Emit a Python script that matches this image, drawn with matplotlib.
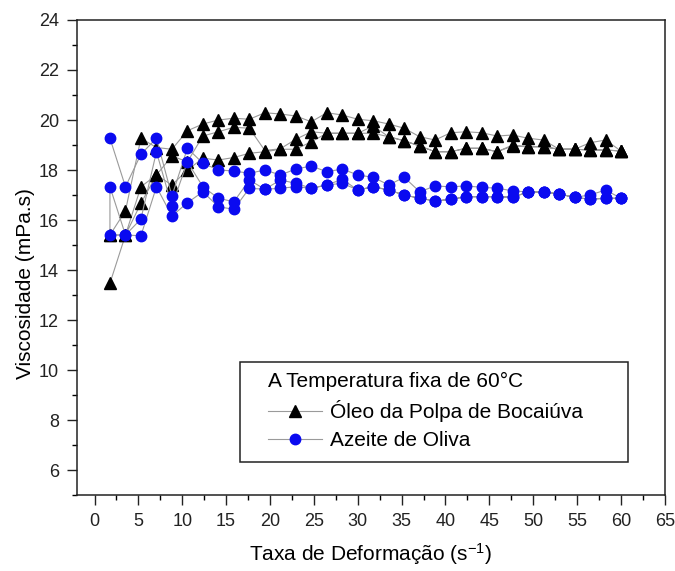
import matplotlib
matplotlib.use("Agg")
import matplotlib.pyplot as plt
from matplotlib.ticker import MultipleLocator
from matplotlib.patches import Rectangle
from matplotlib.lines import Line2D

plt.rcParams['font.family'] = ['Liberation Sans', 'DejaVu Sans']
plt.rcParams['mathtext.default'] = 'regular'

# shear rate (1/s), same for every sweep
taxa = [1.76, 3.53, 5.29, 7.06, 8.82, 10.59, 12.35, 14.12, 15.88, 17.65,
        19.41, 21.18, 22.94, 24.71, 26.47, 28.24, 30.00, 31.76, 33.53, 35.29,
        37.06, 38.82, 40.59, 42.35, 44.12, 45.88, 47.65, 49.41, 51.18, 52.94,
        54.71, 56.47, 58.24, 60.00]

# Oleo da Polpa de Bocaiuva - three sweeps (values listed by increasing shear rate)
oleo_s1 = [13.47, 15.40, 17.33, 17.80, 17.40, 18.00, 18.47, 18.40, 18.50, 18.67,
           18.73, 18.83, 18.83, 19.13, 19.47, 19.47, 19.47, 19.47, 19.33, 19.17,
           18.96, 18.73, 18.73, 18.87, 18.87, 18.73, 19.00, 18.93, 18.93, 18.83,
           18.83, 18.80, 18.80, 18.76]
oleo_s2 = [15.40, 16.37, 19.27, 18.90, 18.83, 19.57, 19.84, 20.00, 20.07, 20.03,
           20.29, 20.24, 20.16, 19.93, 20.29, 20.20, 20.03, 19.97, 19.84, 19.67,
           19.33, 19.20, 19.49, 19.53, 19.49, 19.36, 19.40, 19.27, 19.20, 18.83,
           18.83, 19.09, 19.20, 18.76]
oleo_s3 = [15.40, 15.40, 16.67, 17.80, 18.56, 18.33, 19.36, 19.53, 19.71, 19.67,
           18.78, 18.85, 19.23, 19.53, 19.47, 19.47, 19.47, 19.76, 19.33, 19.17,
           18.96, 18.73, 18.73, 18.87, 18.87, 18.73, 18.96, 18.93, 18.93, 18.83,
           18.83, 18.80, 18.80, 18.76]

# Azeite de Oliva - three sweeps
azeite_s1 = [19.27, 17.33, 18.63, 19.27, 16.96, 18.87, 18.27, 18.00, 17.96, 17.87,
             18.00, 17.80, 18.04, 18.16, 17.93, 18.04, 17.80, 17.71, 17.40, 17.71,
             17.13, 17.36, 17.33, 17.36, 17.31, 17.27, 17.17, 17.12, 17.12, 17.04,
             16.91, 17.00, 17.20, 16.87]
azeite_s2 = [17.33, 15.40, 16.04, 18.73, 16.56, 18.33, 17.33, 16.87, 16.73, 17.60,
             17.23, 17.60, 17.47, 17.27, 17.40, 17.63, 17.20, 17.33, 17.20, 17.00,
             16.87, 16.76, 16.83, 16.93, 16.93, 16.93, 16.91, 17.12, 17.12, 17.04,
             16.91, 16.83, 16.87, 16.87]
azeite_s3 = [15.40, 15.40, 15.37, 17.33, 16.16, 16.69, 17.13, 16.53, 16.43, 17.27,
             17.23, 17.27, 17.33, 17.27, 17.40, 17.47, 17.20, 17.33, 17.20, 17.00,
             16.87, 16.76, 16.83, 16.93, 16.93, 16.93, 16.91, 17.12, 17.12, 17.04,
             16.91, 16.83, 16.87, 16.87]


def sweep_path(s1, s2, s3):
    # up, down, up again
    xs = taxa + taxa[::-1] + taxa
    ys = s1 + s2[::-1] + s3
    return xs, ys


fig = plt.figure(figsize=(6.75, 5.71), dpi=100)
ax = fig.add_axes([0.114, 0.133, 0.871, 0.832])

line_col = '#9a9a9a'
xo, yo = sweep_path(oleo_s1, oleo_s2, oleo_s3)
ax.plot(xo, yo, color=line_col, lw=0.8, marker='^', ms=8.5,
        mfc='black', mec='black', zorder=2)
xa, ya = sweep_path(azeite_s1, azeite_s2, azeite_s3)
ax.plot(xa, ya, color=line_col, lw=0.8, marker='o', ms=7.5,
        mfc='#0a0af0', mec='#0a0af0', zorder=3)

ax.set_xlim(-2, 65)
ax.set_ylim(5, 24)
ax.xaxis.set_major_locator(MultipleLocator(5))
ax.xaxis.set_minor_locator(MultipleLocator(2.5))
ax.yaxis.set_major_locator(MultipleLocator(2))
ax.yaxis.set_minor_locator(MultipleLocator(1))
ax.tick_params(which='major', direction='out', length=7, width=1.0,
               labelsize=13, colors='#222222', pad=6)
ax.tick_params(which='minor', direction='out', length=3.5, width=1.0)
ax.tick_params(top=False, right=False)
for sp in ax.spines.values():
    sp.set_linewidth(1.1)
    sp.set_color('#222222')

ax.set_xlabel('Taxa de Deformação (s$^{-1}$)', fontsize=15, labelpad=8)
ax.set_ylabel('Viscosidade (mPa.s)', fontsize=15)
ax.yaxis.set_label_coords(-0.071, 0.446)

# legend with a hand drawn frame
ax.add_patch(Rectangle((0.277, 0.069), 0.66, 0.211, transform=ax.transAxes,
                       fill=False, ec='#222222', lw=1.1, zorder=5))
handles = [Line2D([], [], color=line_col, lw=0.8, marker='^', ms=8.5,
                  mfc='black', mec='black'),
           Line2D([], [], color=line_col, lw=0.8, marker='o', ms=7.5,
                  mfc='#0a0af0', mec='#0a0af0')]
leg = ax.legend(handles, ['Óleo da Polpa de Bocaiúva', 'Azeite de Oliva'],
                title='A Temperatura fixa de 60°C', title_fontsize=15,
                fontsize=15, frameon=False, loc='lower left',
                bbox_to_anchor=(0.314, 0.082), alignment='left',
                handlelength=2.6, handletextpad=0.4, labelspacing=0.42,
                borderpad=0.3, borderaxespad=0)

fig.savefig('out.png', dpi=100)
